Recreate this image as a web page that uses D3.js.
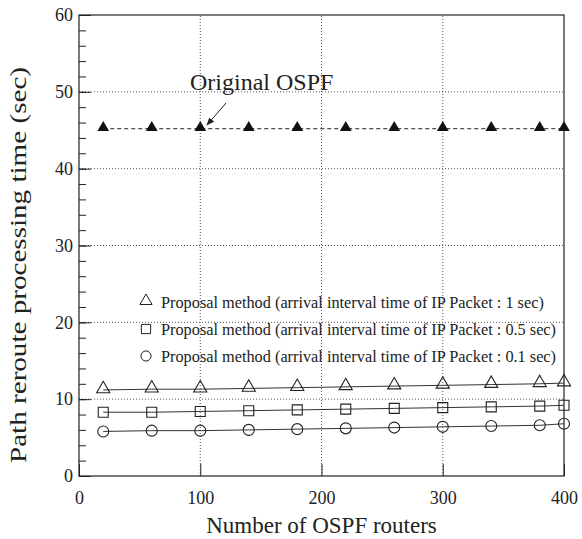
<!DOCTYPE html>
<html>
<head>
<meta charset="utf-8">
<script src="https://cdn.jsdelivr.net/npm/d3@7"></script>
<style>
  body { margin: 0; background: #fff; }
  text { font-family: serif; fill: #222; }
</style>
</head>
<body>
<div id="chart"></div>
<script>
// number of OSPF routers
var routers = [20, 60, 100, 140, 180, 220, 260, 300, 340, 380, 400];
// path reroute processing time (sec)
var originalOspf = [45.2, 45.2, 45.2, 45.2, 45.2, 45.2, 45.2, 45.2, 45.2, 45.2, 45.2];
var proposal1s = [11.2, 11.3, 11.3, 11.4, 11.5, 11.6, 11.7, 11.8, 11.9, 12.0, 12.1];
var proposal05s = [8.3, 8.3, 8.4, 8.5, 8.6, 8.7, 8.8, 8.9, 9.0, 9.1, 9.2];
var proposal01s = [5.8, 5.9, 5.9, 6.0, 6.1, 6.2, 6.3, 6.4, 6.5, 6.6, 6.8];
var legendLabels = [
    'Proposal method (arrival interval time of IP Packet : 1 sec)',
    'Proposal method (arrival interval time of IP Packet : 0.5 sec)',
    'Proposal method (arrival interval time of IP Packet : 0.1 sec)'
];
var xTicks = [0, 100, 200, 300, 400];
var yTicks = [0, 10, 20, 30, 40, 50, 60];

var width = 582;
var height = 539;
var margin = {top: 15, right: 18, bottom: 63, left: 79};

var svg = d3.select('#chart')
    .append('svg')
    .attr('width', width)
    .attr('height', height)
    .attr('viewBox', '0 0 ' + width + ' ' + height);

var x = d3.scaleLinear().domain([0, 400]).range([margin.left, width - margin.right]);
var y = d3.scaleLinear().domain([0, 60]).range([height - margin.bottom, margin.top]);

// grid
var grid = svg.append('g').attr('stroke', '#555').attr('stroke-width', 1).attr('stroke-dasharray', '1,2');
grid.selectAll('.gx').data(xTicks.slice(1, -1)).enter().append('line')
    .attr('x1', function (d) { return x(d); }).attr('x2', function (d) { return x(d); })
    .attr('y1', y(0)).attr('y2', y(60));
grid.selectAll('.gy').data(yTicks.slice(1, -1)).enter().append('line')
    .attr('x1', x(0)).attr('x2', x(400))
    .attr('y1', function (d) { return y(d); }).attr('y2', function (d) { return y(d); });

// axes with inward ticks
var xAxis = svg.append('g').attr('transform', 'translate(0,' + y(0) + ')')
    .call(d3.axisBottom(x).tickValues(xTicks).tickSize(-12).tickPadding(15));
var yMinor = svg.append('g').attr('transform', 'translate(' + x(0) + ',0)')
    .call(d3.axisLeft(y).tickValues(d3.range(2, 60, 2)).tickSize(-7).tickFormat(''));
var yAxis = svg.append('g').attr('transform', 'translate(' + x(0) + ',0)')
    .call(d3.axisLeft(y).tickValues(yTicks).tickSize(-12).tickPadding(6));
[xAxis, yAxis, yMinor].forEach(function (a) {
    a.attr('font-family', 'serif').attr('font-size', 18);
    a.select('.domain').remove();
    a.selectAll('line').attr('stroke', '#222');
    a.selectAll('text').attr('fill', '#222');
});

// frame
svg.append('rect')
    .attr('x', x(0)).attr('y', y(60))
    .attr('width', x(400) - x(0)).attr('height', y(0) - y(60))
    .attr('fill', 'none').attr('stroke', '#222').attr('stroke-width', 1.2);

var line = d3.line()
    .x(function (d, i) { return x(routers[i]); })
    .y(function (d) { return y(d); });

// original OSPF
svg.append('path').datum(originalOspf)
    .attr('d', line).attr('fill', 'none')
    .attr('stroke', '#222').attr('stroke-width', 1).attr('stroke-dasharray', '4,3');
svg.append('g').selectAll('path').data(originalOspf).enter().append('path')
    .attr('d', d3.symbol().type(d3.symbolTriangle).size(60))
    .attr('transform', function (d, i) { return 'translate(' + x(routers[i]) + ',' + (y(d) - 1) + ')'; })
    .attr('fill', '#111');

// proposal series
var series = [
    {values: proposal1s, type: d3.symbolTriangle, size: 75, dy: -1},
    {values: proposal05s, type: d3.symbolSquare, size: 100, dy: 0},
    {values: proposal01s, type: d3.symbolCircle, size: 95, dy: 0}
];
series.forEach(function (s) {
    svg.append('path').datum(s.values)
        .attr('d', line).attr('fill', 'none')
        .attr('stroke', '#333').attr('stroke-width', 1);
    svg.append('g').selectAll('path').data(s.values).enter().append('path')
        .attr('d', d3.symbol().type(s.type).size(s.size))
        .attr('transform', function (d, i) { return 'translate(' + x(routers[i]) + ',' + (y(d) + s.dy) + ')'; })
        .attr('fill', 'none').attr('stroke', '#222').attr('stroke-width', 1.1);
});

// legend
var legend = svg.append('g');
var legendY = [302, 329, 356];
series.forEach(function (s, i) {
    legend.append('path')
        .attr('d', d3.symbol().type(s.type).size(s.size * 0.85))
        .attr('transform', 'translate(146,' + (legendY[i] + s.dy) + ')')
        .attr('fill', 'none').attr('stroke', '#222').attr('stroke-width', 1);
    legend.append('text')
        .attr('x', 161).attr('y', legendY[i])
        .attr('dy', '0.35em')
        .style('font-size', '16.3px')
        .text(legendLabels[i]);
});

// annotation
svg.append('text')
    .attr('x', 190).attr('y', 90)
    .style('font-size', '24px')
    .text('Original OSPF');
svg.append('defs').append('marker')
    .attr('id', 'arrow').attr('viewBox', '0 0 10 10')
    .attr('refX', 9).attr('refY', 5)
    .attr('markerWidth', 8).attr('markerHeight', 8)
    .attr('orient', 'auto')
    .append('path').attr('d', 'M0,1 L10,5 L0,9 Z').attr('fill', '#222');
svg.append('line')
    .attr('x1', 226).attr('y1', 103)
    .attr('x2', 207).attr('y2', 125)
    .attr('stroke', '#222').attr('stroke-width', 1)
    .attr('marker-end', 'url(#arrow)');

// axis titles
svg.append('text')
    .attr('x', (x(0) + x(400)) / 2).attr('y', 525)
    .attr('dy', '0.35em').attr('text-anchor', 'middle')
    .style('font-size', '23px')
    .text('Number of OSPF routers');
svg.append('text')
    .attr('transform', 'translate(18,265) rotate(-90)')
    .attr('dy', '0.35em').attr('text-anchor', 'middle')
    .attr('textLength', 396).attr('lengthAdjust', 'spacingAndGlyphs')
    .style('font-size', '23px')
    .text('Path reroute processing time (sec)');
</script>
</body>
</html>
